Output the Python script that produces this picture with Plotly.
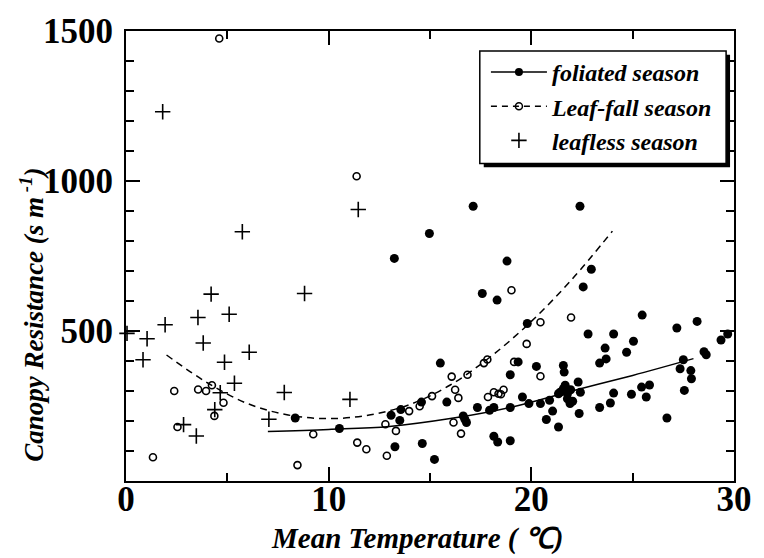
import plotly.graph_objects as go

# ---------------- data ----------------
foliated_x = [17.13, 22.4, 14.97, 13.24, 18.8, 22.96, 17.58, 18.31, 15.51, 18.96,
              15.83, 14.58, 13.56, 13.08, 13.51, 10.53, 8.35, 13.27, 14.62, 15.22,
              16.64, 16.72, 16.8, 17.34, 17.94, 18.15, 18.96, 18.15, 18.34, 18.96,
              22.56, 25.47, 28.18, 27.18, 19.8, 22.8, 24.06, 25.04, 23.64, 24.7,
              23.69, 23.37, 29.36, 29.69, 28.52, 28.63, 27.5, 27.34, 27.87, 27.9,
              27.55, 19.35, 20.25, 21.58, 21.62, 22.31, 21.67, 21.58, 21.42, 21.34,
              21.78, 21.94, 22.42, 21.78, 21.91, 22.04, 20.9, 20.45, 19.88, 19.56,
              21.05, 20.74, 21.34, 22.36, 23.37, 23.9, 24.06, 24.94, 25.44, 25.83,
              25.67, 26.69]
foliated_y = [916, 916, 825, 742, 733, 706, 625, 603, 393, 354,
              263, 263, 238, 219, 202, 175, 210, 114, 125, 72,
              217, 206, 195, 245, 236, 245, 245, 149, 130, 134,
              647, 553, 532, 510, 525, 490, 490, 466, 443, 429,
              407, 393, 470, 490, 431, 421, 404, 374, 368, 341,
              302, 397, 382, 385, 363, 330, 319, 308, 296, 291,
              291, 304, 296, 274, 258, 266, 269, 258, 258, 280,
              233, 205, 180, 225, 245, 260, 293, 289, 313, 320,
              280, 210]

leaffall_x = [4.6, 11.38, 19.02, 16.07, 16.85, 17.66, 17.83, 19.15, 16.24, 16.4,
              15.1, 14.49, 13.97, 12.8, 13.32, 9.24, 11.41, 11.86, 12.87, 8.46,
              16.16, 16.53, 17.86, 18.15, 18.38, 18.63, 18.5, 21.96, 20.45, 19.77,
              20.45, 1.33, 2.38, 3.56, 3.95, 4.24, 4.81, 4.36, 2.54]
leaffall_y = [1475, 1016, 636, 348, 354, 393, 405, 397, 304, 277,
              283, 249, 233, 189, 167, 156, 128, 106, 84, 53,
              195, 158, 280, 296, 291, 304, 289, 545, 529, 457,
              349, 79, 300, 305, 300, 319, 261, 217, 180]

leafless_x = [1.81, 11.46, 5.74, 8.81, 4.2, 1.93, 3.55, 5.09, 1.04, 3.81,
              6.08, 0.84, 4.86, 5.35, 7.81, 4.65, 4.38, 2.84, 3.47, 7.05,
              11.05, 0.05]
leafless_y = [1231, 905, 831, 625, 623, 521, 545, 556, 474, 460,
              429, 404, 396, 326, 295, 294, 238, 188, 150, 206,
              272, 492]

# fitted curves, points
fit_fol_x = [7.0, 10.0, 13.0, 16.0, 19.0, 22.0, 25.0, 28.0]
fit_fol_y = [165, 172, 182, 208, 246, 300, 352, 408]
fit_fall_x = [2.0, 4.0, 6.0, 8.0, 10.0, 12.0, 14.0, 16.0, 18.0, 20.0, 22.0, 24.0]
fit_fall_y = [420, 328, 258, 220, 208, 220, 255, 320, 415, 532, 672, 833]

series_names = ["foliated season", "Leaf-fall season", "leafless season"]
x_ticks = [0, 10, 20, 30]
y_ticks = [500, 1000, 1500]

# ---------------- figure ----------------
FONT = "Liberation Serif, Times New Roman, serif"
fig = go.Figure()

fig.add_trace(go.Scatter(x=fit_fall_x, y=fit_fall_y, mode="lines", line_shape="spline",
                         line=dict(color="black", width=1.5, dash="7px,5px"), showlegend=False))
fig.add_trace(go.Scatter(x=fit_fol_x, y=fit_fol_y, mode="lines", line_shape="spline",
                         line=dict(color="black", width=1.5), showlegend=False))
fig.add_trace(go.Scatter(x=leafless_x, y=leafless_y, mode="markers", showlegend=False,
                         cliponaxis=False,
                         marker=dict(symbol="cross-thin", size=11, line=dict(color="black", width=1.6))))
fig.add_trace(go.Scatter(x=leaffall_x, y=leaffall_y, mode="markers", showlegend=False,
                         marker=dict(symbol="circle-open", size=7, color="black",
                                     line=dict(color="black", width=1.6))))
fig.add_trace(go.Scatter(x=foliated_x, y=foliated_y, mode="markers", showlegend=False,
                         marker=dict(symbol="circle", size=9, color="black")))

# legend-only entries
fig.add_trace(go.Scatter(x=[None], y=[None], mode="lines+markers", name=series_names[0],
                         line=dict(color="black", width=1.5),
                         marker=dict(symbol="circle", size=8, color="black")))
fig.add_trace(go.Scatter(x=[None], y=[None], mode="lines+markers", name=series_names[1],
                         line=dict(color="black", width=1.5, dash="6px,5px"),
                         marker=dict(symbol="circle-open", size=7, color="black",
                                     line=dict(color="black", width=1.5))))
fig.add_trace(go.Scatter(x=[None], y=[None], mode="markers", name=series_names[2],
                         marker=dict(symbol="cross-thin", size=11, line=dict(color="black", width=1.6))))

axis_common = dict(showline=True, linecolor="black", linewidth=2, mirror="ticks",
                   ticks="inside", ticklen=14, tickwidth=2, tickcolor="black",
                   showgrid=False, zeroline=False,
                   tickfont=dict(family=FONT, size=35, color="black", weight="bold"))

fig.update_xaxes(range=[0, 30], tickvals=x_ticks, ticklabelstandoff=-14,
                 minor=dict(dtick=5, ticks="inside", ticklen=8, tickwidth=2, tickcolor="black"),
                 **axis_common)
fig.update_yaxes(range=[0, 1500], tickvals=y_ticks, ticklabelstandoff=4,
                 minor=dict(dtick=100, ticks="inside", ticklen=8, tickwidth=2, tickcolor="black"),
                 **axis_common)

# legend box with shadow
lx0, lx1, ly0, ly1 = 0.5819, 0.987, 0.7058, 0.9558
dx, dy = 0.0065, 0.0088
fig.add_shape(type="rect", xref="paper", yref="paper", x0=lx0 + dx, x1=lx1 + dx,
              y0=ly0 - dy, y1=ly1 - dy, fillcolor="black", line=dict(width=0), layer="above")
fig.add_shape(type="rect", xref="paper", yref="paper", x0=lx0, x1=lx1, y0=ly0, y1=ly1,
              fillcolor="white", line=dict(color="black", width=1.5), layer="above")

fig.update_layout(
    width=764, height=558,
    margin=dict(l=126, r=21, t=29, b=77),
    paper_bgcolor="white", plot_bgcolor="white",
    legend=dict(x=0.592, y=0.958, xanchor="left", yanchor="top",
                bgcolor="rgba(0,0,0,0)", borderwidth=0, itemwidth=56,
                font=dict(family=FONT, size=24, color="black", weight="bold", style="italic")),
    annotations=[
        dict(text="<b><i>Mean Temperature ( \u2103)</i></b>", xref="paper", yref="paper",
             x=0.478, y=-0.128, xanchor="center", yanchor="middle", showarrow=False,
             font=dict(family=FONT, size=29, color="black")),
        dict(text="<b><i>Canopy Resistance (s m<sup> -1</sup>)</i></b>", xref="paper", yref="paper",
             x=-0.156, y=0.37, xanchor="center", yanchor="middle", showarrow=False,
             textangle=-90, font=dict(family=FONT, size=27, color="black")),
    ],
)

fig.write_html("out.html")
